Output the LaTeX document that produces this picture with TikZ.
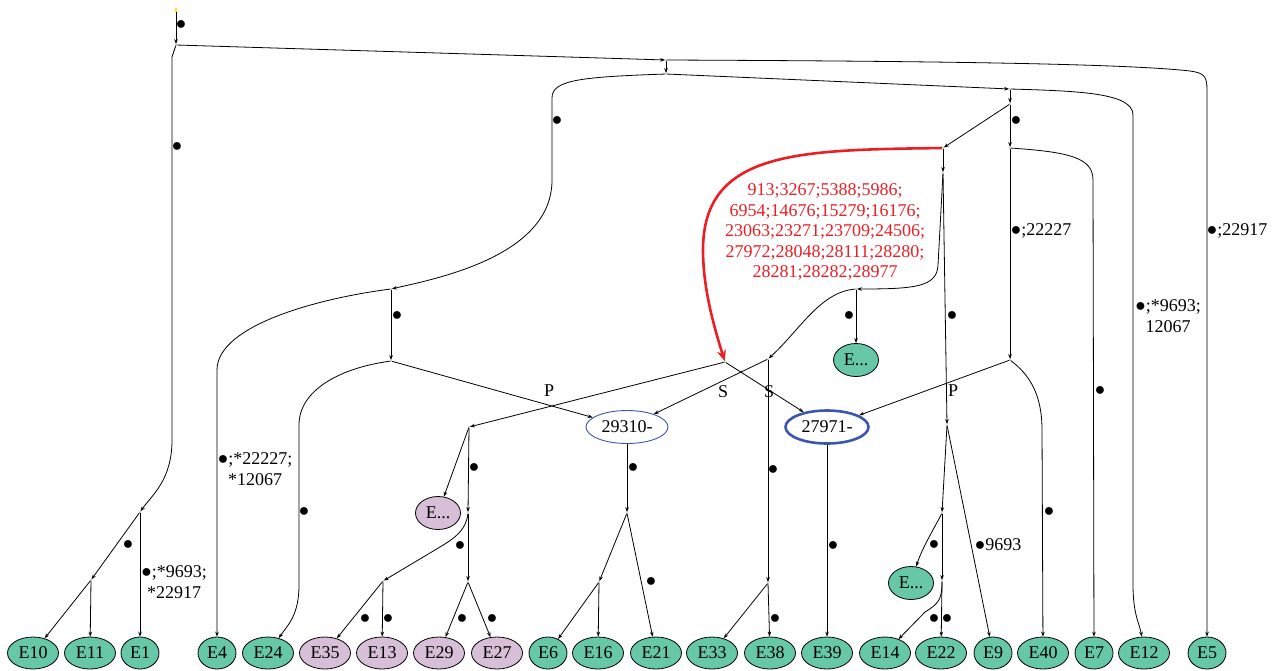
\documentclass[tikz,border=0pt]{standalone}
\usepackage{fontspec}
\setmainfont{Liberation Serif}
\usetikzlibrary{arrows.meta,shapes.geometric}
\definecolor{egreen}{RGB}{102,200,166}
\definecolor{epurple}{RGB}{216,191,216}
\definecolor{eblue}{RGB}{60,85,175}
\definecolor{ered}{RGB}{235,30,35}
\begin{document}
\begin{tikzpicture}[x=1pt,y=-1pt,
  font=\fontsize{18}{20.5}\selectfont,
  conn/.style={draw, line width=0.8pt, -{Stealth[length=5pt,width=3.6pt]}},
  redconn/.style={draw=ered, line width=2.6pt, -{Stealth[length=11pt,width=9pt]}},
  jp/.style={circle, fill=green!55!black, inner sep=0pt, minimum size=1.4pt},
  leaf/.style={ellipse, draw, line width=0.8pt, fill=egreen, inner sep=0pt, minimum height=32pt},
  pleaf/.style={leaf, fill=epurple},
  w3/.style={minimum width=51pt},
  w2/.style={minimum width=38pt},
  wd/.style={minimum width=45pt, minimum height=33pt},
  lbl/.style={inner sep=0pt, align=center}
]
\useasboundingbox (0,0) rectangle (1276,670);

% start and junction points
\node[rectangle, fill=yellow!90!orange, inner sep=0pt, minimum width=1.6pt, minimum height=4pt] (S) at (176,10) {};
\node[jp] (J0) at (176,45) {};
\node[jp] (J1) at (666,60) {};
\node[jp] (J2) at (666,74) {};
\node[jp] (J3) at (1010,89) {};
\node[jp] (J5) at (1010,104) {};
\node[jp] (J6) at (943,148) {};
\node[jp] (J7) at (1010,148) {};
\node[jp] (J9) at (943,173) {};
\node[jp] (J8) at (1010,360) {};
\node[jp] (J10) at (856,289) {};
\node[jp] (J12) at (768,359) {};
\node[jp] (Jr) at (725,362) {};
\node[jp] (J4) at (391,289) {};
\node[jp] (J15) at (391,361) {};
\node[jp] (J14) at (469,427) {};
\node[jp] (J16) at (468,513) {};
\node[jp] (J17) at (383,581) {};
\node[jp] (J18) at (468,582) {};
\node[jp] (J19) at (627,513) {};
\node[jp] (J20) at (599,582) {};
\node[jp] (J13) at (768,583) {};
\node[jp] (J11) at (947,425) {};
\node[jp] (J21) at (942,513) {};
\node[jp] (J22) at (942,581) {};
\node[jp] (Ja) at (140,512) {};
\node[jp] (Jb) at (91,580) {};

% leaves
\node[leaf,w3] (E10) at (33,653) {E10};
\node[leaf,w3] (E11) at (90,653) {E11};
\node[leaf,w2] (E1) at (140,653) {E1};
\node[leaf,w2] (E4) at (217,653) {E4};
\node[leaf,w3] (E24) at (268,653) {E24};
\node[pleaf,w3] (E35) at (325,653) {E35};
\node[pleaf,w3] (E13) at (382,653) {E13};
\node[pleaf,w3] (E29) at (439,653) {E29};
\node[pleaf,w3] (E27) at (497,653) {E27};
\node[leaf,w2] (E6) at (548,653) {E6};
\node[leaf,w3] (E16) at (598,653) {E16};
\node[leaf,w3] (E21) at (656,653) {E21};
\node[leaf,w3] (E33) at (712,653) {E33};
\node[leaf,w3] (E38) at (770,653) {E38};
\node[leaf,w3] (E39) at (827,653) {E39};
\node[leaf,w3] (E14) at (885,653) {E14};
\node[leaf,w3] (E22) at (941,653) {E22};
\node[leaf,w2] (E9) at (993,653) {E9};
\node[leaf,w3] (E40) at (1043,653) {E40};
\node[leaf,w2] (E7) at (1094,653) {E7};
\node[leaf,w3] (E12) at (1144,653) {E12};
\node[leaf,w2] (E5) at (1207,653) {E5};
\node[pleaf,wd] (Ep) at (438,513) {E...};
\node[leaf,wd] (Eg1) at (856,360) {E...};
\node[leaf,wd] (Eg2) at (911,583) {E...};

% blue nodes
\node[ellipse, draw=eblue, line width=0.9pt, fill=white, inner sep=0pt, minimum width=82pt, minimum height=33pt] (N29310) at (627,427) {29310-};
\node[ellipse, draw=eblue, line width=2.6pt, fill=white, inner sep=0pt, minimum width=83pt, minimum height=33pt] (N27971) at (827,427) {27971-};

% connectors
\draw[conn] (S) -- (J0);
\draw[conn] (J0) -- (J1);
\draw[conn] (J0) -- (172,57) -- (172,440) .. controls (172,480) and (152,495) .. (Ja);
\draw[conn] (J1) -- (J2);
\draw[conn] (J1) .. controls (900,61) and (1120,63) .. (1190,71) .. controls (1204,73) and (1207,76) .. (1207,90) -- (E5);
\draw[conn] (J2) -- (J3);
\draw[conn] (J2) .. controls (580,77) and (552,80) .. (552,98) -- (552,180) .. controls (552,255) and (440,278) .. (J4);
\draw[conn] (J3) .. controls (1080,91) and (1133,93) .. (1133,115) -- (1133,585) .. controls (1133,615) and (1140,625) .. (E12);
\draw[conn] (J3) -- (J5);
\draw[conn] (J5) -- (J6);
\draw[conn] (J5) -- (J7);
\draw[conn] (J7) .. controls (1070,152) and (1093,158) .. (1093,180) -- (E7);
\draw[conn] (J7) -- (J8);
\draw[conn] (J8) -- (N27971);
\draw[conn] (J8) .. controls (1030,375) and (1042,395) .. (1042,430) -- (E40);
\draw[redconn] (J6) .. controls (800,150) and (703,150) .. (703,250) .. controls (703,290) and (715,330) .. (Jr);
\draw[conn] (J6) -- (J9);
\draw[conn] (J9) -- (J11);
\draw[conn] (J9) -- (938,265) .. controls (937,287) and (915,289) .. (J10);
\draw[conn] (J10) -- (Eg1);
\draw[conn] (J10) .. controls (820,292) and (800,330) .. (J12);
\draw[conn] (J12) -- (N29310);
\draw[conn] (J12) -- (J13);
\draw[conn] (J13) -- (E33);
\draw[conn] (J13) -- (E38);
\draw[conn] (Jr) -- (J14);
\draw[conn] (Jr) -- (N27971);
\draw[conn] (J4) .. controls (320,298) and (217,325) .. (217,370) -- (E4);
\draw[conn] (J4) -- (J15);
\draw[conn] (J15) .. controls (340,368) and (299,390) .. (299,425) -- (299,585) .. controls (299,615) and (288,625) .. (E24);
\draw[conn] (J15) -- (N29310);
\draw[conn] (J14) -- (Ep);
\draw[conn] (J14) -- (J16);
\draw[conn] (J16) .. controls (466,530) and (455,538) .. (440,547) -- (J17);
\draw[conn] (J16) -- (J18);
\draw[conn] (J17) -- (E35);
\draw[conn] (J17) -- (E13);
\draw[conn] (J18) -- (E29);
\draw[conn] (J18) -- (E27);
\draw[conn] (N29310) -- (J19);
\draw[conn] (J19) -- (J20);
\draw[conn] (J19) -- (E21);
\draw[conn] (J20) -- (E6);
\draw[conn] (J20) -- (E16);
\draw[conn] (N27971) -- (E39);
\draw[conn] (J11) -- (J21);
\draw[conn] (J11) -- (E9);
\draw[conn] (J21) .. controls (936,525) and (922,548) .. (Eg2);
\draw[conn] (J21) -- (J22);
\draw[conn] (J22) .. controls (942,600) and (938,604) .. (925,612) -- (E14);
\draw[conn] (J22) -- (E22);
\draw[conn] (Ja) -- (Jb);
\draw[conn] (Ja) -- (E1);
\draw[conn] (Jb) -- (E10);
\draw[conn] (Jb) -- (E11);

% labels
\node[lbl] (b1) at (181,25) {●};
\node[lbl] (b2) at (177,147) {●};
\node[lbl] (b3) at (557,121) {●};
\node[lbl] (b4) at (1016,121) {●};
\node[lbl] (b5) at (1100,391) {●};
\node[lbl] (b6) at (1049,512) {●};
\node[lbl] (b7) at (397,316) {●};
\node[lbl] (b8) at (304,512) {●};
\node[lbl] (b9) at (474,468) {●};
\node[lbl] (b10) at (633,468) {●};
\node[lbl] (b11) at (460,546) {●};
\node[lbl] (b12) at (128,545) {●};
\node[lbl] (b13) at (365,619) {●};
\node[lbl] (b14) at (388,619) {●};
\node[lbl] (b15) at (462,619) {●};
\node[lbl] (b16) at (492,619) {●};
\node[lbl] (b17) at (651,582) {●};
\node[lbl] (b18) at (775,619) {●};
\node[lbl] (b19) at (833,546) {●};
\node[lbl] (b20) at (773,470) {●};
\node[lbl] (b21) at (849,316) {●};
\node[lbl] (b22) at (952,316) {●};
\node[lbl] (b23) at (934,545) {●};
\node[lbl] (b24) at (934,619) {●};
\node[lbl] (b25) at (947,619) {●};
\node[lbl] (t1) at (1041,231) {●;22227};
\node[lbl] (t2) at (1237,231) {●;22917};
\node[lbl] (t3) at (1168,316) {●;*9693;\\12067};
\node[lbl] (t4) at (255,469) {●;*22227;\\*12067};
\node[lbl] (t5) at (174,582) {●;*9693;\\*22917};
\node[lbl] (t6) at (998,545) {●9693};
\node[lbl, text=ered] (tr) at (825,232) {913;3267;5388;5986;\\6954;14676;15279;16176;\\23063;23271;23709;24506;\\27972;28048;28111;28280;\\28281;28282;28977};
\node[lbl] (p1) at (549,391) {P};
\node[lbl] (p2) at (953,391) {P};
\node[lbl] (s1) at (723,392) {S};
\node[lbl] (s2) at (769,392) {S};
\end{tikzpicture}
\end{document}
